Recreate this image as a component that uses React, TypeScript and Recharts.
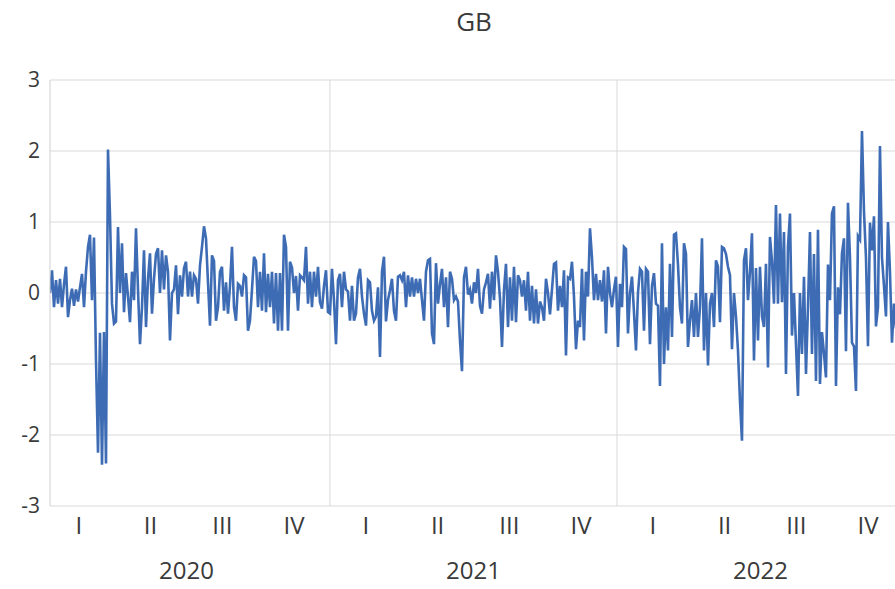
import React from 'react';
import { LineChart, Line, XAxis, YAxis, CartesianGrid, ReferenceLine } from 'recharts';

const title = 'GB';
const years = [2020, 2021, 2022];
const quarterLabels = ['I', 'II', 'III', 'IV'];
const yTicks = [-3, -2, -1, 0, 1, 2, 3];

// values, in time order (one point every ~2.5 days)
const v2020a = [
  0.0, 0.32, -0.2, 0.18, -0.15, 0.2, -0.2, 0.12, 0.37, -0.34,
  -0.1, 0.06, -0.18, 0.05, -0.12, 0.08, 0.27, -0.2, 0.3, 0.65,
  0.82, -0.1, 0.78, -0.95, -2.25, -0.56, -2.42, -0.55, -2.4, 2.02,
  1.08, -0.15, -0.43, -0.4, 0.93, 0.0, 0.7, -0.27, 0.28, -0.05,
  -0.41, 0.3, -0.1, 0.91, 0.05, -0.72, -0.2, 0.6, -0.48, 0.2,
  0.56, -0.29, 0.2, 0.55, 0.63, 0.0, 0.6, 0.05, 0.53, 0.3,
  -0.67, 0.0, 0.05, 0.39, -0.3, 0.25, -0.05, 0.35, 0.44, -0.05,
];
const v2020b = [
  0.3, -0.05, 0.25, 0.2, -0.15, 0.39, 0.65, 0.94, 0.77, 0.15,
  -0.46, 0.53, 0.45, -0.39, -0.2, 0.3, 0.37, -0.25, 0.15, -0.29,
  0.1, 0.65, -0.2, -0.39, 0.13, 0.1, -0.05, 0.25, 0.22, -0.53,
  -0.39, 0.05, 0.51, 0.45, -0.2, 0.3, -0.25, 0.56, -0.27, 0.27,
  -0.2, 0.3, -0.43, 0.28, -0.53, 0.28, -0.53, 0.82, 0.65, -0.53,
  0.44, 0.36, 0.0, 0.24, -0.25, 0.25, 0.22, 0.18, 0.65, -0.15,
  0.3, -0.2, 0.3, -0.05, 0.37, -0.13, -0.22, 0.1, 0.32, -0.27,
];
const v2021a = [
  -0.29, 0.34, -0.1, -0.72, 0.18, 0.27, -0.2, 0.3, 0.05, 0.02,
  -0.39, 0.1, -0.39, -0.29, 0.22, 0.34, -0.05, -0.29, -0.46, 0.18,
  0.15, -0.25, -0.39, -0.33, 0.08, -0.9, 0.3, 0.51, -0.4, -0.1,
  0.04, 0.2, -0.25, -0.39, 0.23, 0.25, 0.18, 0.3, -0.2, 0.25,
  -0.05, 0.22, -0.05, 0.2, 0.0, 0.2, -0.1, -0.39, 0.3, 0.46,
  0.48, -0.57, -0.72, 0.42, -0.15, 0.12, 0.34, -0.2, 0.22, -0.48,
  0.3, 0.2, -0.1, -0.05, -0.12, -0.67, -1.1, 0.22, 0.37, -0.02,
];
const v2021b = [
  0.05, -0.15, 0.15, 0.0, 0.34, -0.18, -0.29, 0.05, 0.15, 0.27,
  -0.22, 0.3, -0.1, 0.53, 0.3, -0.08, -0.76, 0.04, 0.41, -0.48,
  0.22, -0.39, 0.37, -0.41, 0.25, 0.18, -0.05, 0.18, -0.25, 0.3,
  -0.39, 0.1, -0.43, 0.05, -0.43, -0.12, -0.2, -0.39, 0.2, 0.0,
  -0.3, 0.05, 0.41, 0.43, -0.25, 0.1, -0.2, 0.32, -0.88, 0.22,
  0.2, 0.44, -0.05, -0.79, -0.39, -0.48, 0.34, -0.67, 0.3, -0.05,
  0.91, 0.5, -0.1, 0.27, -0.1, 0.18, -0.12, 0.32, -0.57, 0.37,
];
const v2022a = [
  0.0, -0.2, 0.05, 0.23, -0.76, 0.13, -0.2, 0.65, 0.62, -0.57,
  0.0, 0.23, -0.27, -0.81, 0.0, 0.34, 0.3, -0.53, 0.34, 0.3,
  -0.72, 0.1, 0.28, -0.15, -0.18, -1.31, 0.7, -1.0, -0.2, -0.81,
  0.41, -0.62, 0.82, 0.84, 0.4, -0.2, -0.43, 0.7, 0.55, -0.76,
  -0.39, -0.1, -0.62, 0.0, -0.62, -0.2, 0.77, -0.81, 0.0, -1.02,
  -0.15, 0.0, -0.48, 0.46, 0.37, -0.41, 0.65, 0.63, 0.55, 0.37,
  0.25, -0.79, 0.0, -0.33, -0.81, -1.52, -2.08, 0.46, 0.63, -0.1,
];
const v2022b = [
  0.3, 0.84, -0.95, 0.35, -0.67, 0.37, -0.33, -0.48, 0.41, -1.05,
  0.79, 0.45, -0.15, 1.24, -0.15, 1.12, -0.13, 0.86, -1.14, 0.65,
  1.12, -0.6, 0.0, -0.72, -1.45, 0.0, -0.86, 0.23, -1.14, -0.2,
  0.86, -0.86, 0.55, -1.24, 0.89, -1.28, -0.55, -0.85, -1.19, 0.4,
  -0.1, 1.12, 1.22, -1.31, 0.08, -0.3, 0.56, 0.77, -0.82, 1.27,
  0.5, -0.7, -0.75, -1.38, 0.8, 0.75, 2.28, 1.15, 0.5, -0.75,
  0.99, 0.6, 1.08, -0.47, -0.2, 2.07, 0.5, 0.1, -0.33, 1.0,
  0.3, -0.7, -0.15, -0.5,
];

const FIRST_DAY = 9; // first observation: 9 Jan 2020
const DAYS_PER_POINT = 2.545;

const values = [...v2020a, ...v2020b, ...v2021a, ...v2021b, ...v2022a, ...v2022b];
const data = values.map((v, i) => ({
  t: years[0] + (FIRST_DAY + i * DAYS_PER_POINT) / 365.25,
  v,
}));

const domainStart = years[0] + FIRST_DAY / 365.25;
const domainEnd = years[years.length - 1] + 1;
const quarterTicks = years.flatMap((y) => quarterLabels.map((_, q) => y + (q + 0.5) / 4));
const yearTicks = years.map((y) => y + 0.5);
const yearBoundaries = years.slice(1);

const FONT = '"Open Sans", "Noto Sans", sans-serif';
const TEXT = '#3a3a3a';
const GRID = '#d9d9d9';

const quarterFmt = (t: number) => {
  const frac = t - Math.floor(t);
  return quarterLabels[Math.min(3, Math.floor(frac * 4 + 1e-9))];
};
const yearFmt = (t: number) => String(Math.floor(t));

export default function App() {
  return (
    <div
      style={{
        position: 'fixed',
        left: 0,
        top: 0,
        width: 895,
        height: 589,
        overflow: 'hidden',
        background: '#ffffff',
        fontFamily: FONT,
      }}
    >
      <div
        style={{
          position: 'absolute',
          left: 0,
          top: 3,
          width: 948,
          textAlign: 'center',
          fontSize: 26,
          lineHeight: 'normal',
          color: TEXT,
          fontFamily: FONT,
        }}
      >
        {title}
      </div>
      <LineChart
        width={910}
        height={589}
        data={data}
        margin={{ top: 80, right: 6, bottom: 0, left: 0 }}
      >
        <CartesianGrid vertical={false} stroke={GRID} strokeWidth={1} />
        {yearBoundaries.map((y) => (
          <ReferenceLine key={y} x={y} xAxisId="q" stroke={GRID} strokeWidth={1} />
        ))}
        <XAxis
          xAxisId="q"
          dataKey="t"
          type="number"
          domain={[domainStart, domainEnd]}
          allowDataOverflow
          ticks={quarterTicks}
          interval={0}
          tickFormatter={quarterFmt}
          axisLine={false}
          tickLine={false}
          tickSize={0}
          tickMargin={11}
          height={35}
          tick={{ fontSize: 24, fill: TEXT, fontFamily: FONT }}
        />
        <XAxis
          xAxisId="y"
          dataKey="t"
          type="number"
          domain={[domainStart, domainEnd]}
          allowDataOverflow
          ticks={yearTicks}
          interval={0}
          tickFormatter={yearFmt}
          axisLine={false}
          tickLine={false}
          tickSize={0}
          tickMargin={21}
          height={48}
          tick={{ fontSize: 24, fill: TEXT, fontFamily: FONT }}
        />
        <YAxis
          domain={[-3, 3]}
          ticks={yTicks}
          interval={0}
          width={50}
          axisLine={{ stroke: '#d0d0d0' }}
          tickLine={false}
          tickSize={0}
          tickMargin={10}
          tick={{ fontSize: 21, fill: TEXT, fontFamily: FONT }}
        />
        <Line
          xAxisId="q"
          dataKey="v"
          type="linear"
          stroke="#3d6cb5"
          strokeWidth={2.6}
          strokeLinejoin="miter"
          dot={false}
          activeDot={false}
          isAnimationActive={false}
        />
      </LineChart>
    </div>
  );
}
